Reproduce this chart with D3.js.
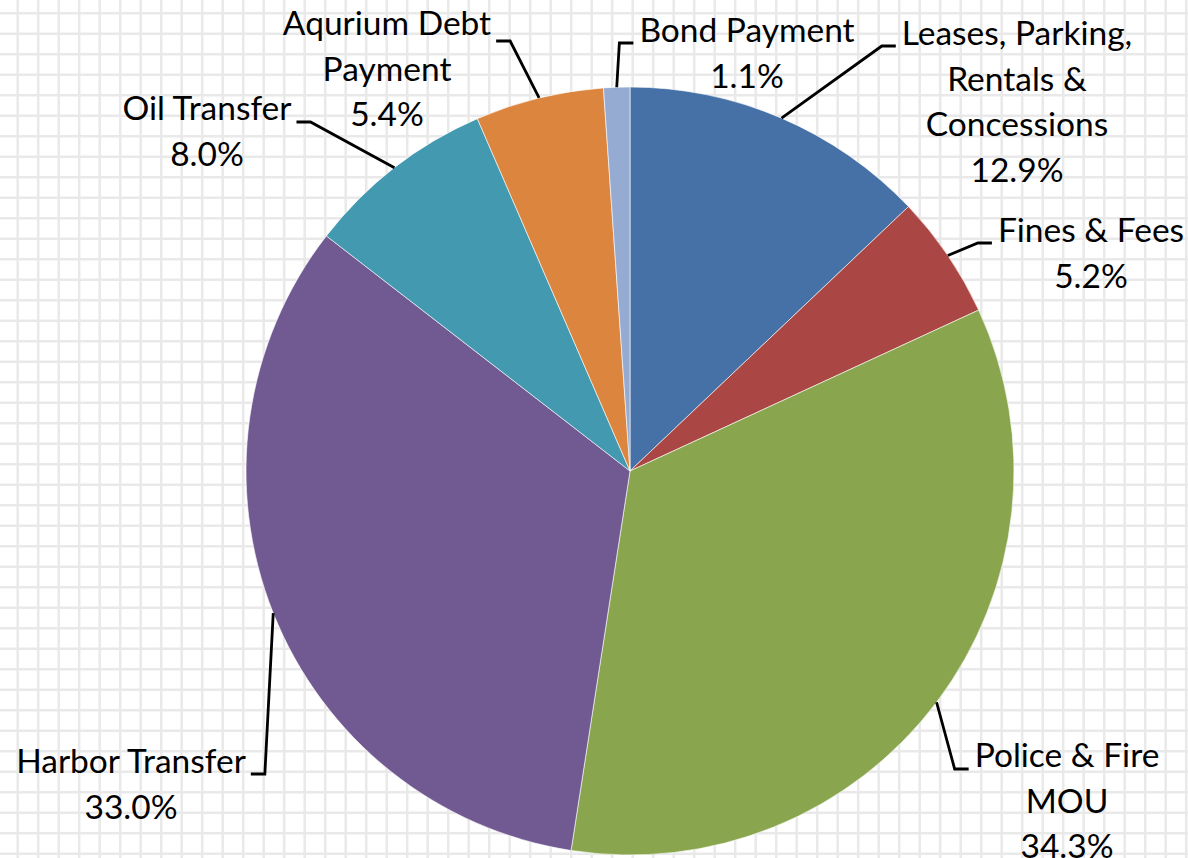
<!DOCTYPE html>
<html lang="en">
<head>
  <meta charset="UTF-8">
  <title>Revenue Sources Pie</title>
  <script src="https://d3js.org/d3.v7.min.js"></script>
  <style>
    body { margin: 0; background: #fff; }
    .label text { font-family: Lato, "Open Sans", sans-serif; font-size: 33.5px; fill: #000; }
    .grid line { stroke: #e9e9e9; stroke-width: 2.5; }
    .leader { fill: none; stroke: #000; stroke-width: 2.8; }
  </style>
</head>
<body>
  <svg id="chart" width="1188" height="858"></svg>

  <script>
    // Data (clockwise from 12 o'clock)
    const categories = [
      "Leases, Parking, Rentals & Concessions",
      "Fines & Fees",
      "Police & Fire MOU",
      "Harbor Transfer",
      "Oil Transfer",
      "Aqurium Debt Payment",
      "Bond Payment"
    ];
    const values = [12.9, 5.2, 34.3, 33.0, 8.0, 5.4, 1.1];
    const colors = ["#4671a6", "#aa4744", "#89a64f", "#715991", "#4399b0", "#dc853e", "#95abd1"];

    // How each category name wraps in its label
    const labelLines = [
      ["Leases, Parking,", "Rentals &", "Concessions"],
      ["Fines & Fees"],
      ["Police & Fire", "MOU"],
      ["Harbor Transfer"],
      ["Oil Transfer"],
      ["Aqurium Debt", "Payment"],
      ["Bond Payment"]
    ];

    // Label placement (center x, first baseline y, which side the leader attaches)
    const labelLayout = [
      { x: 1017, y: 45,  side: "left",  dy: 0 },
      { x: 1091, y: 242, side: "left",  dy: 0 },
      { x: 1067, y: 767, side: "left",  dy: 1 },
      { x: 131,  y: 773, side: "right", dy: 0 },
      { x: 207,  y: 120, side: "right", dy: 1 },
      { x: 387,  y: 35,  side: "right", dy: 5 },
      { x: 747,  y: 42,  side: "left",  dy: 0 }
    ];

    const width = 1188, height = 858;
    const cx = 630, cy = 471, radius = 384;
    const lineHeight = 45.5;

    const svg = d3.select("#chart");

    // spreadsheet-like grid behind the chart
    const grid = svg.append("g").attr("class", "grid");
    grid.selectAll(".v").data(d3.range(17.7, width, 20.5)).join("line")
      .attr("class", "v")
      .attr("x1", d => d).attr("x2", d => d)
      .attr("y1", 0).attr("y2", height);
    grid.selectAll(".h").data(d3.range(13.3, height, 20.5)).join("line")
      .attr("class", "h")
      .attr("y1", d => d).attr("y2", d => d)
      .attr("x1", 0).attr("x2", width);

    const pie = d3.pie().sort(null).value(d => d);
    const arcs = pie(values);
    const arc = d3.arc().innerRadius(0).outerRadius(radius);

    const g = svg.append("g").attr("transform", `translate(${cx},${cy})`);
    g.selectAll("path").data(arcs).join("path")
      .attr("d", arc)
      .attr("fill", (d, i) => colors[i])
      .attr("stroke", "#ffffff")
      .attr("stroke-width", 0.6);

    // labels
    const labels = svg.append("g").attr("class", "label");
    arcs.forEach((a, i) => {
      const lay = labelLayout[i];
      const lines = labelLines[i].concat([values[i].toFixed(1) + "%"]);
      const t = labels.append("text").attr("text-anchor", "middle");
      lines.forEach((ln, k) => {
        t.append("tspan")
          .attr("x", lay.x)
          .attr("y", lay.y + k * lineHeight)
          .text(ln);
      });

      // leader: from slice edge at mid angle, to elbow, then short horizontal tick
      const firstW = t.select("tspan").node().getComputedTextLength();
      const mid = (a.startAngle + a.endAngle) / 2;
      const sx = cx + radius * Math.sin(mid);
      const sy = cy - radius * Math.cos(mid);
      const hy = lay.y + 1 + lay.dy;
      const end = lay.side === "left" ? lay.x - firstW / 2 - 6 : lay.x + firstW / 2 + 5;
      const elbow = lay.side === "left" ? end - 14 : end + 14;
      svg.append("path")
        .attr("class", "leader")
        .attr("d", d3.line()([[sx, sy], [elbow, hy], [end, hy]]));
    });
  </script>
</body>
</html>
